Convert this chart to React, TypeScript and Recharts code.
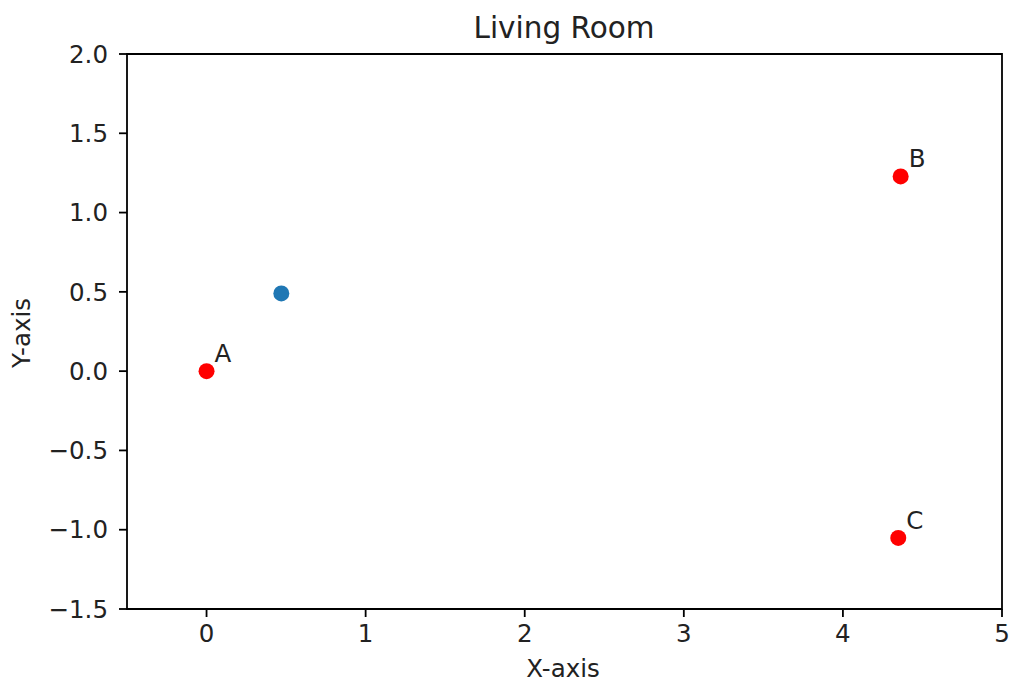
import React from 'react';
import { ScatterChart, Scatter, XAxis, YAxis, ReferenceArea } from 'recharts';

// points
const labelNames = ['A', 'B', 'C'];
const labelX = [0, 4.363, 4.348];
const labelY = [0, 1.228, -1.052];

const blueX = [0.47];
const blueY = [0.49];

const xTicks = [0, 1, 2, 3, 4, 5];
const yTicks = [-1.5, -1.0, -0.5, 0.0, 0.5, 1.0, 1.5, 2.0];

const labeled = labelNames.map((name, i) => ({ name, x: labelX[i], y: labelY[i] }));
const blue = blueX.map((x, i) => ({ x, y: blueY[i] }));

const FONT = '"DejaVu Sans", sans-serif';
const TEXT = '#222';

const RedPoint = (props: any) => {
  const { cx, cy, payload } = props;
  return (
    <g>
      <circle cx={cx} cy={cy} r={8} fill="#ff0000" />
      <text x={cx + 8} y={cy - 9} fontSize={24.5} fontFamily={FONT} fill={TEXT}>
        {payload.name}
      </text>
    </g>
  );
};

const BluePoint = (props: any) => {
  const { cx, cy } = props;
  return <circle cx={cx} cy={cy} r={8} fill="#1f77b4" />;
};

const fmtY = (v: number) => v.toFixed(1).replace('-', '\u2212');

const App: React.FC = () => {
  return (
    <div style={{ position: 'absolute', left: 0, top: 0, width: 1015, height: 687, background: '#fff' }}>
      <ScatterChart width={1015} height={687} margin={{ top: 54, right: 13, bottom: 18, left: 27 }}>
        <XAxis
          type="number"
          dataKey="x"
          domain={[-0.5, 5]}
          ticks={xTicks}
          allowDataOverflow
          height={60}
          axisLine={false}
          tickLine={{ stroke: '#000', strokeWidth: 1.8 }}
          tickSize={8}
          tickMargin={8}
          tick={{ fontSize: 24.5, fontFamily: FONT, fill: TEXT }}
        />
        <YAxis
          type="number"
          dataKey="y"
          domain={[-1.5, 2]}
          ticks={yTicks}
          allowDataOverflow
          width={100}
          axisLine={false}
          tickLine={{ stroke: '#000', strokeWidth: 1.8 }}
          tickSize={8}
          tickMargin={11}
          tickFormatter={fmtY}
          tick={{ fontSize: 24.5, fontFamily: FONT, fill: TEXT }}
        />
        <ReferenceArea x1={-0.5} x2={5} y1={-1.5} y2={2} fill="none" fillOpacity={0} stroke="#000" strokeWidth={1.8} />
        <Scatter data={labeled} shape={RedPoint} isAnimationActive={false} />
        <Scatter data={blue} shape={BluePoint} isAnimationActive={false} />
      </ScatterChart>
      <svg width={1015} height={687} style={{ position: 'absolute', left: 0, top: 0, pointerEvents: 'none' }}>
        <text x={564} y={38} textAnchor="middle" fontSize={29.5} fontFamily={FONT} fill={TEXT}>
          Living Room
        </text>
        <text x={563} y={677} textAnchor="middle" fontSize={24.5} fontFamily={FONT} fill={TEXT}>
          X-axis
        </text>
        <text
          x={30}
          y={333}
          textAnchor="middle"
          fontSize={24.5}
          fontFamily={FONT}
          fill={TEXT}
          transform="rotate(-90 30 333)"
        >
          Y-axis
        </text>
      </svg>
    </div>
  );
};

export default App;
